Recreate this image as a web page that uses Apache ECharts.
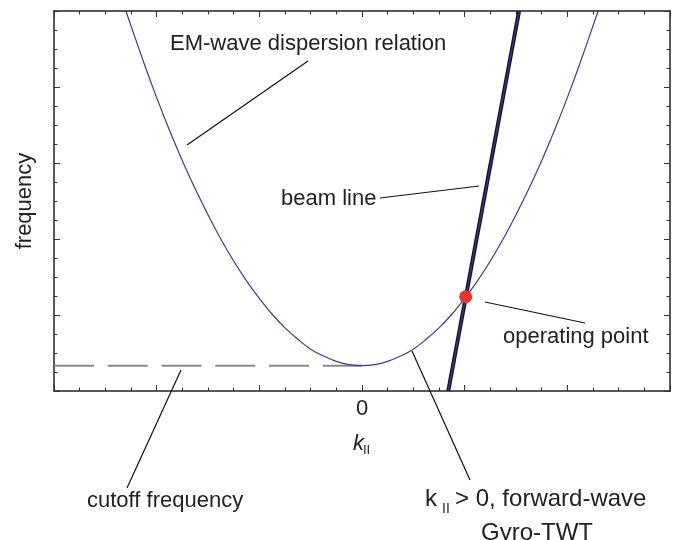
<!DOCTYPE html>
<html>
<head>
<meta charset="utf-8">
<script src="https://cdn.jsdelivr.net/npm/echarts@6/dist/echarts.min.js"></script>
<style>
  html, body { margin: 0; padding: 0; background: #fff; }
  #chart { width: 683px; height: 540px; }
</style>
</head>
<body>
<div id="chart"></div>
<script>
// dispersion curve (k, frequency)
var curveK = [-2.3, -2.125, -2.0, -1.875, -1.75, -1.625, -1.5, -1.375, -1.25, -1.125, -1.0, -0.875, -0.75, -0.625, -0.5, -0.375, -0.25, -0.125,
              0, 0.125, 0.25, 0.375, 0.5, 0.625, 0.75, 0.875, 1.0, 1.125, 1.25, 1.375, 1.5, 1.625, 1.75, 1.875, 2.0, 2.125, 2.3];
var curveF = [5.0, 4.32, 3.86, 3.43, 3.03, 2.66, 2.32, 2.00, 1.71, 1.45, 1.22, 1.01, 0.83, 0.68, 0.55, 0.46, 0.39, 0.347,
              0.333, 0.347, 0.39, 0.46, 0.55, 0.68, 0.83, 1.01, 1.22, 1.45, 1.71, 2.00, 2.32, 2.66, 3.03, 3.43, 3.86, 4.32, 5.0];
// beam line end points
var beamK = [0.84, 1.53];
var beamF = [0, 5];
// cutoff frequency (dashed)
var cutoffK = [-3, 0];
var cutoffF = [0.333, 0.333];
// operating point
var opPoint = [1.01, 1.24];

var FONT = '"Liberation Sans", Arial, Helvetica, sans-serif';
var txt = '#222';

function pairs(xs, ys) {
  return xs.map(function (x, i) { return [x, ys[i]]; });
}

var chart = echarts.init(document.getElementById('chart'));

function xAx(pos, labels) {
  return {
    type: 'value', position: pos, min: -3, max: 3, interval: 1,
    axisLine: { show: true, onZero: false, lineStyle: { color: '#222', width: 1.5 } },
    axisTick: { show: true, inside: true, length: 6, lineStyle: { color: '#333' } },
    minorTick: { show: true, splitNumber: 4, length: 3.5, lineStyle: { color: '#333' } },
    splitLine: { show: false },
    axisLabel: {
      show: labels, margin: 7, color: txt, fontFamily: FONT, fontSize: 22,
      formatter: function (v) { return v === 0 ? '0' : ''; }
    }
  };
}
function yAx(pos) {
  return {
    type: 'value', position: pos, min: 0, max: 5, interval: 1,
    axisLine: { show: true, onZero: false, lineStyle: { color: '#222', width: 1.5 } },
    axisTick: { show: true, inside: true, length: 6, lineStyle: { color: '#333' } },
    minorTick: { show: true, splitNumber: 4, length: 3.5, lineStyle: { color: '#333' } },
    splitLine: { show: false },
    axisLabel: { show: false }
  };
}

function label(text, x, y, opts) {
  opts = opts || {};
  return {
    type: 'text', x: x, y: y, z: 100,
    style: {
      text: text, fill: txt,
      font: (opts.italic ? 'italic ' : '') + (opts.size || 22) + 'px ' + FONT,
      textAlign: opts.align || 'left', textVerticalAlign: 'middle'
    },
    rotation: opts.rotation || 0
  };
}
function leader(x1, y1, x2, y2) {
  return {
    type: 'line', z: 100,
    shape: { x1: x1, y1: y1, x2: x2, y2: y2 },
    style: { stroke: '#111', lineWidth: 1.2 }
  };
}

var option = {
  animation: false,
  backgroundColor: '#fff',
  grid: { left: 54, right: 13, top: 11, bottom: 149 },
  xAxis: [xAx('bottom', true), xAx('top', false)],
  yAxis: [yAx('left'), yAx('right')],
  series: [
    {
      type: 'line', data: pairs(cutoffK, cutoffF), showSymbol: false,
      lineStyle: { color: '#8a8a8a', width: 2, type: [40, 13.75] }, z: 2
    },
    {
      type: 'line', data: pairs(curveK, curveF), showSymbol: false, smooth: 0.4,
      lineStyle: { color: '#3b3b9e', width: 1.2 }, z: 3
    },
    {
      type: 'line', data: pairs(beamK, beamF), showSymbol: false,
      lineStyle: { color: '#111', width: 4 }, z: 4
    },
    {
      type: 'line', data: pairs(beamK, beamF), showSymbol: false,
      lineStyle: { color: '#2e3393', width: 1.6 }, z: 5
    },
    {
      type: 'scatter', data: [opPoint], symbolSize: 13,
      itemStyle: { color: '#ea3329', opacity: 1 }, z: 6
    }
  ],
  graphic: [
    label('frequency', 25, 201, { rotation: Math.PI / 2, align: 'center' }),
    label('k', 353, 444, { italic: true }),
    label('II', 363, 450, { size: 13 }),
    label('EM-wave dispersion relation', 170, 44),
    leader(187, 145, 308, 61),
    label('beam line', 281, 199),
    leader(380, 198, 479, 186),
    label('operating point', 503, 337),
    leader(485, 302, 585, 323),
    label('cutoff frequency', 87, 501),
    leader(127, 488, 181, 370),
    label('k', 425, 499, { size: 24 }),
    label('II', 442, 509, { size: 14 }),
    label('> 0, forward-wave', 455, 499, { size: 24 }),
    label('Gyro-TWT', 537, 533, { align: 'center', size: 24 }),
    leader(412, 351, 470, 480)
  ]
};

chart.setOption(option);
window.addEventListener('resize', function () {
  chart.resize();
});
</script>
</body>
</html>
